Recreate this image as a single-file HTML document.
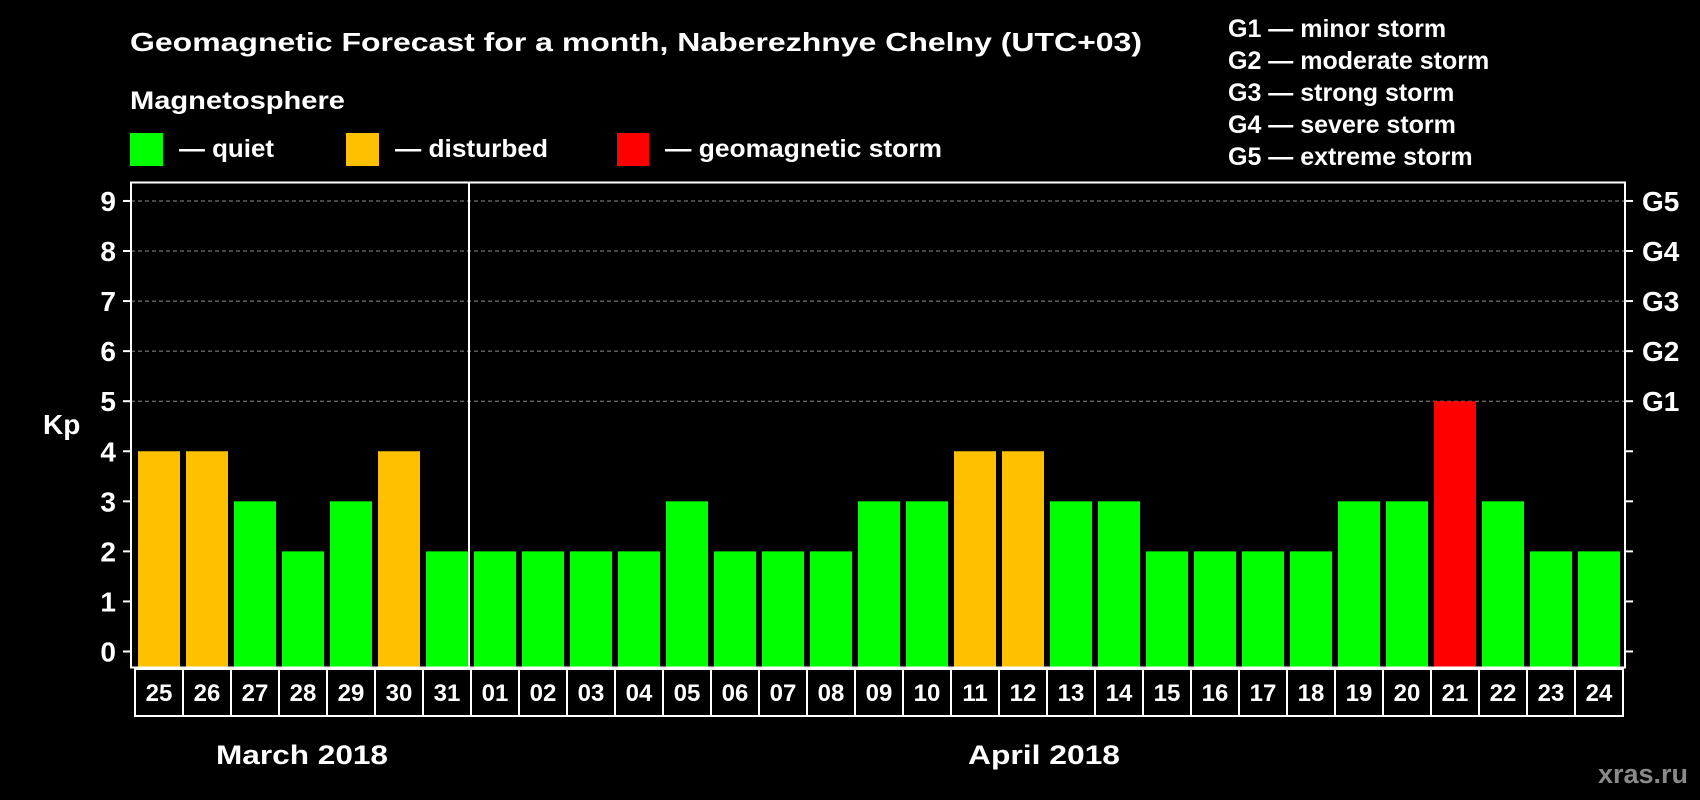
<!DOCTYPE html>
<html><head><meta charset="utf-8"><style>
html,body{margin:0;padding:0;background:#000;}
svg{display:block;}
text{font-family:"Liberation Sans",Arial,sans-serif;font-weight:bold;fill:#fff;}
</style></head><body>
<svg id="chart" width="1700" height="800" viewBox="0 0 1700 800">
<text x="130" y="51" font-size="26" textLength="1012" lengthAdjust="spacingAndGlyphs">Geomagnetic Forecast for a month, Naberezhnye Chelny (UTC+03)</text>
<text x="130" y="109" font-size="25" textLength="215" lengthAdjust="spacingAndGlyphs">Magnetosphere</text>
<g>
<rect x="130" y="133" width="33" height="33" fill="#00ff00"/>
<text x="179" y="157" font-size="25" textLength="95" lengthAdjust="spacingAndGlyphs">— quiet</text></g>
<g>
<rect x="346" y="133" width="33" height="33" fill="#ffc000"/>
<text x="395" y="157" font-size="25" textLength="153" lengthAdjust="spacingAndGlyphs">— disturbed</text></g>
<g>
<rect x="617" y="133" width="32" height="33" fill="#ff0000"/>
<text x="665" y="157" font-size="25" textLength="277" lengthAdjust="spacingAndGlyphs">— geomagnetic storm</text></g>
<g font-size="25">
<text x="1228" y="37">G1 — minor storm</text>
<text x="1228" y="69">G2 — moderate storm</text>
<text x="1228" y="101">G3 — strong storm</text>
<text x="1228" y="133">G4 — severe storm</text>
<text x="1228" y="165">G5 — extreme storm</text>
</g>
<text x="43" y="434" font-size="28">Kp</text>
<text x="216" y="764" font-size="27" textLength="172" lengthAdjust="spacingAndGlyphs">March 2018</text>
<text x="968" y="764" font-size="27" textLength="152" lengthAdjust="spacingAndGlyphs">April 2018</text>
<text x="1688" y="783" font-size="27" style="fill:#8a8a8a" text-anchor="end">xras.ru</text>
<g id="plot"></g>
</svg>
<script>
const days = ["25","26","27","28","29","30","31","01","02","03","04","05","06","07","08","09","10","11","12","13","14","15","16","17","18","19","20","21","22","23","24"];
const kpValues = [4,4,3,2,3,4,2,2,2,2,2,3,2,2,2,3,3,4,4,3,3,2,2,2,2,3,3,5,3,2,2];
const yTicks = [0,1,2,3,4,5,6,7,8,9];
const gLabels = ["G1","G2","G3","G4","G5"];
const gLevels = [5,6,7,8,9];

(function(){
const NS = "http://www.w3.org/2000/svg";
const plot = document.getElementById("plot");
const pLeft = 131, pRight = 1625, pTop = 182.5, pBottom = 667.5;
const y0 = 651.5, unit = 50.06;
const slot = (pRight - pLeft - 6) / days.length;
function yScale(v){ return y0 - v * unit; }
function xSlot(i){ return pLeft + 6 + i * slot; }
function mk(tag, attrs){ const e = document.createElementNS(NS, tag); for (const k in attrs) e.setAttribute(k, attrs[k]); plot.appendChild(e); return e; }
function colorFor(v){ return v >= 5 ? "#ff0000" : (v >= 4 ? "#ffc000" : "#00ff00"); }

gLevels.forEach((lv, i) => {
  const g = mk("line", {x1: pLeft, x2: pRight, y1: yScale(lv), y2: yScale(lv), stroke: "#8c8c8c", "stroke-width": 1, "stroke-dasharray": "4,3"});
  
  
  const t = mk("text", {x: 1642, y: yScale(lv) + 10, "font-size": 28});
  t.textContent = gLabels[i];
  
  
});

yTicks.forEach(v => {
  const tl = mk("line", {x1: pLeft - 8, x2: pLeft, y1: yScale(v), y2: yScale(v), stroke: "#fff", "stroke-width": 2});
  
  
  const tr = mk("line", {x1: pRight, x2: pRight + 8, y1: yScale(v), y2: yScale(v), stroke: "#fff", "stroke-width": 2});
  
  
  const t = mk("text", {x: 116, y: yScale(v) + 10, "font-size": 28, "text-anchor": "end"});
  t.textContent = v;
  
  
});

kpValues.forEach((v, i) => {
  const b = mk("rect", {x: xSlot(i) + 1, y: yScale(v), width: 42, height: pBottom - 1 - yScale(v), fill: colorFor(v)});
  
  
});

const frame = mk("rect", {x: pLeft, y: pTop, width: pRight - pLeft, height: pBottom - pTop, fill: "none", stroke: "#fff", "stroke-width": 2});


const div = mk("line", {x1: pLeft + 7 * slot + 2, x2: pLeft + 7 * slot + 2, y1: pTop, y2: pBottom, stroke: "#fff", "stroke-width": 2});



const boxL = 135, boxT = 669, boxB = 716;
days.forEach((d, i) => {
  const r = mk("rect", {x: boxL + i * slot, y: boxT, width: slot, height: boxB - boxT, fill: "none", stroke: "#fff", "stroke-width": 2});
  
  
  const t = mk("text", {x: boxL + i * slot + slot / 2, y: 701, "font-size": 24, "text-anchor": "middle"});
  t.textContent = d;
  
  
});
})();
</script>
</body></html>
